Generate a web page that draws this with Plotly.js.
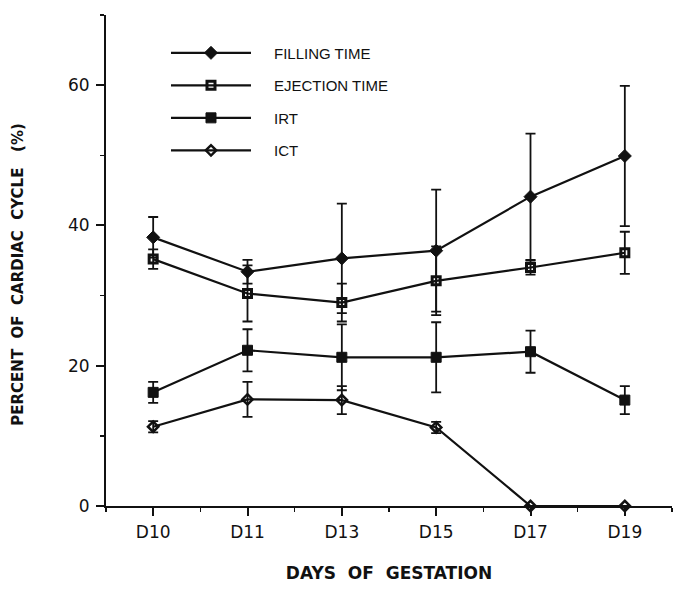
<!DOCTYPE html>
<html>
<head>
<meta charset="utf-8">
<script src="https://cdn.plot.ly/plotly-3.0.1.min.js"></script>
<style>
  body { margin: 0; background: #fff; }
  #chart { width: 685px; height: 590px; }
</style>
</head>
<body>
<div id="chart"></div>
<script>
// days of gestation (categories)
const days = ["D10", "D11", "D13", "D15", "D17", "D19"];

// percent of cardiac cycle, mean and error
const fillingTime = [38.3, 33.4, 35.3, 36.4, 44.1, 49.9];
const fillingErr = [2.9, 1.7, 7.8, 8.7, 9.0, 10.0];
const ejectionTime = [35.2, 30.3, 29.0, 32.1, 34.0, 36.1];
const ejectionErr = [1.4, 4.0, 2.7, 4.9, 1.0, 3.0];
const irt = [16.2, 22.2, 21.2, 21.2, 22.0, 15.1];
const irtErr = [1.5, 3.0, 4.7, 5.0, 3.0, 2.0];
const ict = [11.3, 15.2, 15.1, 11.2, 0, 0];
const ictErr = [0.8, 2.5, 2.0, 0.8, 0, 0];

const yTicks = [0, 20, 40, 60];

const xIdx = days.map((d, i) => i);

// pad legend text away from the line sample
const pad = "\u2003\u2009";

function series(name, y, err, symbol, size, edge) {
    return {
        x: xIdx,
        y: y,
        name: pad + name,
        legendgroup: name,
        type: "scatter",
        mode: "lines+markers",
        cliponaxis: false,
        line: { color: "#111", width: 2.2 },
        marker: { symbol: symbol, size: size, color: "#111", line: { color: "#111", width: edge } },
        error_y: { type: "data", array: err, visible: true, color: "#111", thickness: 1.8, width: 5 }
    };
}

let data = [
    series("FILLING TIME", fillingTime, fillingErr, "diamond", 10, 1),
    series("EJECTION TIME", ejectionTime, ejectionErr, "square-open", 8, 3),
    series("IRT", irt, irtErr, "square", 10, 1),
    series("ICT", ict, ictErr, "diamond-open", 8, 2.5)
];

const tickFont = { size: 17, family: "DejaVu Sans, sans-serif" };

let layout = {
    width: 685,
    height: 590,
    margin: { l: 106, r: 13, t: 15, b: 84 },
    paper_bgcolor: "#fff",
    plot_bgcolor: "#fff",
    font: { family: "Liberation Sans, Arial, sans-serif", color: "#111", size: 14 },
    showlegend: true,
    legend: {
        x: 0.106, y: 0.956, xanchor: "left", yanchor: "top",
        bgcolor: "rgba(0,0,0,0)",
        font: { size: 15 },
        itemwidth: 80,
        tracegroupgap: 10
    },
    xaxis: {
        range: [-0.5, 5.5],
        tickvals: xIdx,
        ticktext: days,
        showgrid: false,
        zeroline: false,
        showline: true,
        linecolor: "#111",
        linewidth: 2,
        ticks: "outside",
        ticklen: 8,
        tickwidth: 2,
        tickcolor: "#111",
        tickfont: tickFont,
        ticklabelstandoff: 2,
        minor: { dtick: 0.5, tick0: 0.5, ticks: "outside", ticklen: 4, tickwidth: 1.5, tickcolor: "#111" },
        title: { text: "DAYS\u00a0\u00a0OF\u00a0\u00a0GESTATION", font: { size: 17, family: "DejaVu Sans, sans-serif", weight: "bold" }, standoff: 26 }
    },
    yaxis: {
        range: [0, 70],
        tickvals: yTicks,
        showgrid: false,
        zeroline: false,
        showline: true,
        linecolor: "#111",
        linewidth: 2,
        ticks: "outside",
        ticklen: 8,
        tickwidth: 2,
        tickcolor: "#111",
        tickfont: tickFont,
        ticklabelstandoff: 3,
        minor: { dtick: 10, tick0: 10, ticks: "outside", ticklen: 4, tickwidth: 1.5, tickcolor: "#111" }
    },
    annotations: [{
        text: "PERCENT\u00a0\u00a0OF\u00a0\u00a0CARDIAC\u00a0\u00a0CYCLE\u00a0\u00a0\u00a0(%)",
        xref: "paper", yref: "paper",
        x: -0.156, y: 0.4725,
        xanchor: "center", yanchor: "middle",
        textangle: -90,
        showarrow: false,
        font: { size: 15, family: "DejaVu Sans, sans-serif", weight: "bold", color: "#111" }
    }]
};

Plotly.newPlot("chart", data, layout, { displayModeBar: false, staticPlot: true });
</script>
</body>
</html>
